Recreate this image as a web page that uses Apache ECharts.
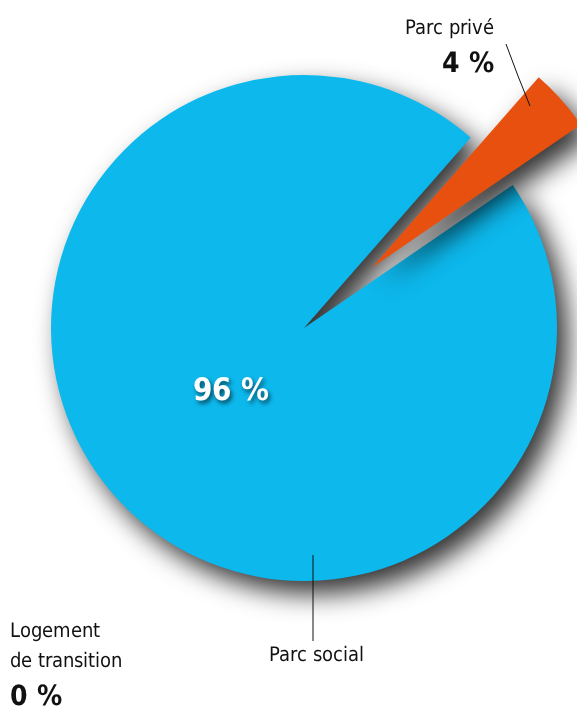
<!DOCTYPE html>
<html>
<head>
<meta charset="utf-8">
<script src="https://cdn.jsdelivr.net/npm/echarts@6/dist/echarts.min.js"></script>
<style>
  @font-face { font-family: 'CondSans'; font-weight: normal; src: local('Liberation Sans Narrow'), local('LiberationSansNarrow-Regular'), local('DejaVu Sans Condensed'), local('DejaVuSansCondensed'); }
  @font-face { font-family: 'CondSans'; font-weight: bold; src: local('Liberation Sans Narrow Bold'), local('LiberationSansNarrow-Bold'), local('DejaVu Sans Condensed Bold'), local('DejaVuSansCondensed-Bold'); }
  html, body { margin: 0; padding: 0; background: #fff; }
  #container { width: 577px; height: 711px; }
</style>
</head>
<body>
<div id="container"></div>
<script>
// données
var categories = ['Parc privé', 'Parc social', 'Logement de transition'];
var values = [4, 96, 0];
var labelNames = ['Parc privé', 'Parc social', 'Logement\nde transition'];
var colors = ['#e8500f', '#0db8ec', '#9e9e9e'];

var font = "CondSans, 'DejaVu Sans', sans-serif";

// positions des étiquettes
var outerLabels = {
    0: { x: 494, y: 14, align: 'right', verticalAlign: 'top', labelLinePoints: [[530, 106], [518, 76], [506, 44]] },
    1: { x: 316, y: 656, align: 'center', verticalAlign: 'middle', labelLinePoints: [[313, 555], [313, 600], [313, 641]] },
    2: { x: 10, y: 617, align: 'left', verticalAlign: 'top' }
};

function draw() {
    var dom = document.getElementById('container');
    var myChart = echarts.init(dom, null, { renderer: 'canvas' });

    var pieData = categories.map(function (name, i) {
        return {
            name: name,
            value: values[i],
            selected: i === 0,
            itemStyle: { color: colors[i] },
            select: { itemStyle: { color: colors[i] } }
        };
    });

    var labelData = categories.map(function (name, i) {
        return {
            name: name,
            value: values[i],
            label: {
                formatter: i === 1 ? labelNames[i] : '{n|' + labelNames[i].replace('\n', '}\n{n|') + '}\n{p|' + values[i] + ' %}'
            },
            labelLine: { show: i !== 2 }
        };
    });

    var option = {
        animation: false,
        series: [{
            type: 'pie',
            center: [304, 328],
            radius: 253,
            startAngle: 48.8,
            clockwise: true,
            selectedMode: 'single',
            selectedOffset: 91,
            silent: true,
            itemStyle: {
                shadowBlur: 26,
                shadowOffsetX: 11,
                shadowOffsetY: 13,
                shadowColor: 'rgba(0,0,0,0.8)'
            },
            label: {
                show: true,
                position: 'inside',
                overflow: 'none',
                formatter: function (p) { return p.dataIndex === 1 ? p.value + ' %' : ''; },
                color: '#fff',
                fontFamily: font,
                fontWeight: 'bold',
                fontSize: 31,
                textShadowColor: 'rgba(0,0,0,0.6)',
                textShadowBlur: 4,
                textShadowOffsetX: 2,
                textShadowOffsetY: 3
            },
            labelLine: { show: false },
            labelLayout: function (p) {
                return { x: 231, y: 392, align: 'center', verticalAlign: 'middle' };
            },
            data: pieData
        }, {
            type: 'pie',
            center: [304, 328],
            radius: 253,
            startAngle: 48.8,
            clockwise: true,
            silent: true,
            z: 3,
            itemStyle: { color: 'rgba(0,0,0,0)' },
            label: {
                show: true,
                position: 'outside',
                overflow: 'none',
                color: '#111',
                fontFamily: font,
                fontSize: 20,
                rich: {
                    n: { fontFamily: font, fontSize: 20, lineHeight: 30, color: '#111' },
                    p: { fontFamily: font, fontSize: 28, fontWeight: 'bold', lineHeight: 42, color: '#111' }
                }
            },
            labelLine: { show: true, lineStyle: { color: '#111', width: 1 } },
            labelLayout: function (p) {
                return outerLabels[p.dataIndex];
            },
            data: labelData
        }]
    };
    myChart.setOption(option, true);
}

Promise.all([
    document.fonts.load('20px CondSans'),
    document.fonts.load('bold 20px CondSans')
]).then(draw, draw);
</script>
</body>
</html>
